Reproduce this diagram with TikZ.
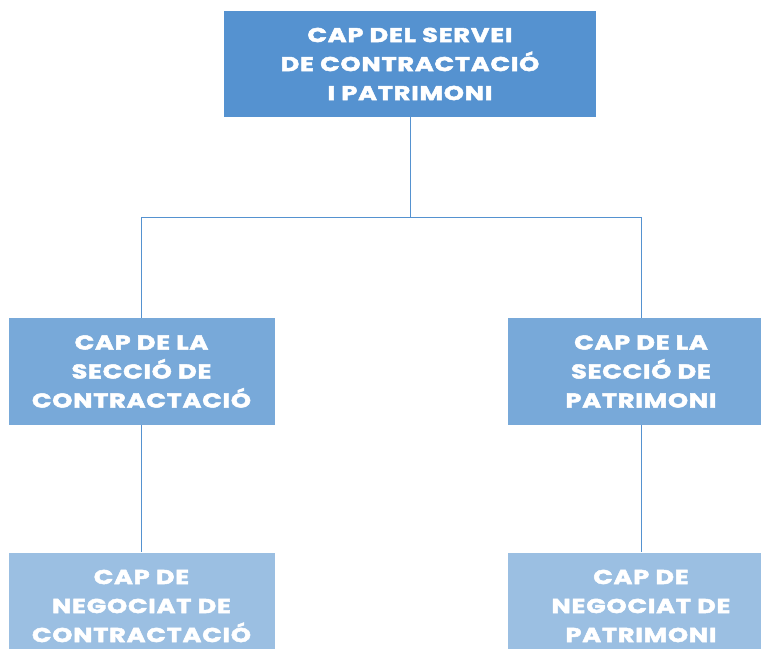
\documentclass[tikz,border=0pt]{standalone}
\usepackage{fontspec}
\setmainfont{Poppins}
\newfontfamily\capfont{Poppins}[BoldFeatures={FakeStretch=1.28,FakeBold=2.5,LetterSpace=4}]
\usetikzlibrary{positioning}
\definecolor{capdark}{HTML}{5592D0}
\definecolor{capmid}{HTML}{78A9D9}
\definecolor{caplight}{HTML}{9BBFE2}
\tikzset{box/.style={inner sep=0pt, align=center, text=white,
        font=\capfont\fontsize{15}{21.75}\selectfont\bfseries},
    topbox/.style={box, fill=capdark, minimum width=279pt, minimum height=79.5pt},
    midbox/.style={box, fill=capmid, minimum width=199.5pt, minimum height=80.25pt},
    lowbox/.style={box, fill=caplight, minimum width=199.5pt, minimum height=80.25pt},
    link/.style={capdark, line width=0.75pt},
    }

\begin{document}
\begin{tikzpicture}[x=0.75pt,y=-0.75pt]
	\useasboundingbox (0,0) rectangle (761,649);
	\clip (0,0) rectangle (761,649);
	\node[topbox] (servei) at (410,64) {CAP DEL SERVEI\\DE CONTRACTACIÓ\\I PATRIMONI};
	\node[midbox] (seccioC) at (141.5,371.5) {CAP DE LA\\SECCIÓ DE\\CONTRACTACIÓ};
	\node[midbox] (seccioP) at (641,371.5) {CAP DE LA\\SECCIÓ DE\\PATRIMONI};
	\node[lowbox] (negociatC) at (141.5,606) {CAP DE\\NEGOCIAT DE\\CONTRACTACIÓ};
	\node[lowbox] (negociatP) at (641,606) {CAP DE\\NEGOCIAT DE\\PATRIMONI};
	\coordinate (split) at (410,218);
	\draw[link] (servei.south) -- (split);
	\draw[link] (split) -| (seccioC.north);
	\draw[link] (split) -| (seccioP.north);
	\draw[link] (seccioC.south) -- (negociatC.north);
	\draw[link] (seccioP.south) -- (negociatP.north);
\end{tikzpicture}
\end{document}
